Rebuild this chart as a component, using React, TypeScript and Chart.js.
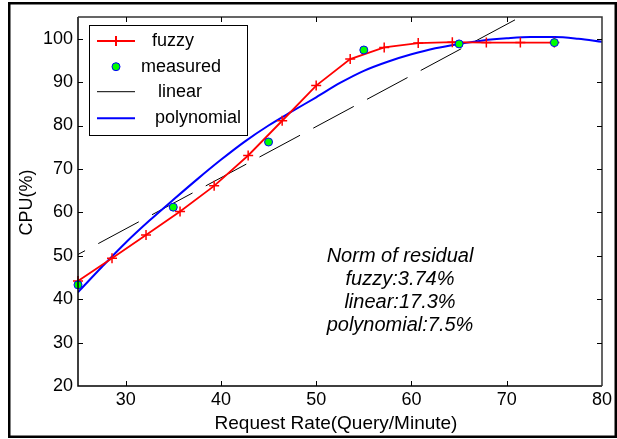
import React, { useEffect, useRef } from "react";
import { Chart, registerables } from "chart.js";

Chart.register(...registerables);

// Fuzzy model output (red line with + markers)
const fuzzyX = [25, 28.57, 32.14, 35.71, 39.29, 42.86, 46.43, 50, 53.57, 57.14, 60.71, 64.29, 67.86, 71.43, 75];
const fuzzyY = [44.2, 49.4, 54.8, 60.2, 66.1, 73.1, 81.1, 89.2, 95.3, 98.0, 99.0, 99.2, 99.1, 99.1, 99.1];

// Measured CPU usage (green dots)
const measuredX = [25, 35, 45, 55, 65, 75];
const measuredY = [43.3, 61.2, 76.2, 97.4, 98.8, 99.1];

// Linear fit (black dashed)
const linearX = [25, 80];
const linearY = [50.3, 115.1];

// Polynomial fit (blue)
const polyX = [25, 27.5, 30, 32.5, 35, 37.5, 40, 42.5, 45, 47.5, 50, 52.5, 55, 57.5, 60, 62.5, 65, 67.5, 70, 72.5, 75, 77.5, 80];
const polyY = [41.6, 47.4, 53.0, 58.1, 62.9, 67.6, 72.1, 76.3, 80.0, 83.3, 86.5, 89.8, 92.6, 94.7, 96.4, 97.8, 98.8, 99.6, 100.1, 100.4, 100.4, 100.0, 99.3];

const xTicks = [30, 40, 50, 60, 70, 80];
const yTicks = [20, 30, 40, 50, 60, 70, 80, 90, 100];

const legendLabels = ["fuzzy", "measured", "linear", "polynomial"];
const residualLines = ["Norm of residual", "fuzzy:3.74%", "linear:17.3%", "polynomial:7.5%"];

const xTitle = "Request Rate(Query/Minute)";
const yTitle = "CPU(%)";

const FONT = "'Liberation Sans', Arial, Helvetica, sans-serif";

const toPts = (xs: number[], ys: number[]) => xs.map((x, i) => ({ x, y: ys[i] }));

const decorPlugin = {
  id: "decor",
  afterDatasetsDraw(chart: any) {
    const { ctx, chartArea: a, scales } = chart;
    const xs = scales.x;
    const ys = scales.y;
    ctx.save();

    // outer figure frame
    ctx.strokeStyle = "#000";
    ctx.lineWidth = 2.5;
    ctx.strokeRect(9.25, 3.25, 606.5, 433.5);

    // axes box
    ctx.lineWidth = 1.5;
    ctx.strokeStyle = "#000";
    ctx.beginPath();
    ctx.moveTo(a.left, a.top);
    ctx.lineTo(a.left, a.bottom);
    ctx.lineTo(a.right, a.bottom);
    ctx.stroke();
    ctx.strokeStyle = "#333";
    ctx.beginPath();
    ctx.moveTo(a.left, a.top);
    ctx.lineTo(a.right, a.top);
    ctx.lineTo(a.right, a.bottom);
    ctx.stroke();

    // inward tick marks on all four sides
    const tl = 5;
    ctx.lineWidth = 1;
    ctx.strokeStyle = "#000";
    ctx.beginPath();
    xTicks.forEach((v) => {
      const px = Math.round(xs.getPixelForValue(v)) + 0.5;
      if (px > a.right - 2) return;
      ctx.moveTo(px, a.bottom);
      ctx.lineTo(px, a.bottom - tl);
      ctx.moveTo(px, a.top);
      ctx.lineTo(px, a.top + tl);
    });
    yTicks.forEach((v) => {
      const py = Math.round(ys.getPixelForValue(v)) + 0.5;
      if (py > a.bottom - 2) return;
      ctx.moveTo(a.left, py);
      ctx.lineTo(a.left + tl, py);
      ctx.moveTo(a.right, py);
      ctx.lineTo(a.right - tl, py);
    });
    ctx.stroke();

    // axis titles
    ctx.fillStyle = "#000";
    ctx.font = `19px ${FONT}`;
    ctx.textAlign = "center";
    ctx.textBaseline = "alphabetic";
    ctx.fillText(xTitle, (a.left + a.right) / 2 - 4, a.bottom + 43);
    ctx.font = `18px ${FONT}`;
    ctx.save();
    ctx.translate(a.left - 46, (a.top + a.bottom) / 2 + 1);
    ctx.rotate(-Math.PI / 2);
    ctx.fillText(yTitle, 0, 0);
    ctx.restore();

    // residual annotation
    ctx.font = `italic 20px ${FONT}`;
    ctx.textBaseline = "middle";
    const cx = xs.getPixelForValue(58.8);
    const cy = ys.getPixelForValue(49.8);
    residualLines.forEach((t, i) => ctx.fillText(t, cx, cy + i * 22.8));

    // legend
    const bx = a.left + 11;
    const by = a.top + 8;
    const bw = 158;
    const bh = 110;
    ctx.fillStyle = "#fff";
    ctx.fillRect(bx, by, bw, bh);
    ctx.strokeStyle = "#000";
    ctx.lineWidth = 1;
    ctx.strokeRect(bx + 0.5, by + 0.5, bw, bh);
    const rowY = [16, 41.7, 66.7, 93.3];
    const textX = [63, 52, 69, 66];
    const l0 = bx + 8;
    const l1 = bx + 46;
    const lm = (l0 + l1) / 2;

    // fuzzy
    ctx.strokeStyle = "#ff0000";
    ctx.lineWidth = 2;
    ctx.beginPath();
    ctx.moveTo(l0, by + rowY[0]);
    ctx.lineTo(l1, by + rowY[0]);
    ctx.moveTo(lm, by + rowY[0] - 5);
    ctx.lineTo(lm, by + rowY[0] + 5);
    ctx.stroke();
    // measured
    ctx.fillStyle = "#00ff00";
    ctx.strokeStyle = "#0000ff";
    ctx.lineWidth = 1;
    ctx.beginPath();
    ctx.arc(lm, by + rowY[1], 4, 0, Math.PI * 2);
    ctx.fill();
    ctx.stroke();
    // linear
    ctx.strokeStyle = "#000";
    ctx.lineWidth = 1;
    ctx.beginPath();
    ctx.moveTo(l0, by + rowY[2]);
    ctx.lineTo(l1, by + rowY[2]);
    ctx.stroke();
    // polynomial
    ctx.strokeStyle = "#0000ff";
    ctx.lineWidth = 2;
    ctx.beginPath();
    ctx.moveTo(l0, by + rowY[3]);
    ctx.lineTo(l1, by + rowY[3]);
    ctx.stroke();

    ctx.fillStyle = "#000";
    ctx.font = `18px ${FONT}`;
    ctx.textAlign = "left";
    ctx.textBaseline = "middle";
    legendLabels.forEach((t, i) => ctx.fillText(t, bx + textX[i], by + rowY[i]));

    ctx.restore();
  },
};

export default function App() {
  const ref = useRef<HTMLCanvasElement | null>(null);

  useEffect(() => {
    if (!ref.current) return;
    document.body.style.margin = "0";
    const chart = new Chart(ref.current, {
      type: "scatter",
      data: {
        datasets: [
          {
            label: "measured",
            data: toPts(measuredX, measuredY),
            showLine: false,
            clip: false,
            pointRadius: 4,
            pointBackgroundColor: "#00ff00",
            pointBorderColor: "#0000ff",
            pointBorderWidth: 1,
          },
          {
            label: "fuzzy",
            data: toPts(fuzzyX, fuzzyY),
            showLine: true,
            clip: false,
            borderColor: "#ff0000",
            borderWidth: 1.8,
            pointStyle: "cross",
            pointRadius: 5,
            pointBorderColor: "#ff0000",
            pointBorderWidth: 1.5,
          },
          {
            label: "polynomial",
            data: toPts(polyX, polyY),
            showLine: true,
            borderColor: "#0000ff",
            borderWidth: 2,
            pointRadius: 0,
            cubicInterpolationMode: "monotone",
          },
          {
            label: "linear",
            data: toPts(linearX, linearY),
            showLine: true,
            borderColor: "#000",
            borderWidth: 1,
            borderDash: [46, 15],
            borderDashOffset: 38,
            pointRadius: 0,
          },
        ],
      } as any,
      options: {
        responsive: false,
        animation: false,
        devicePixelRatio: 1,
        layout: { padding: { left: 0, right: 15, top: 17, bottom: 0 } },
        plugins: { legend: { display: false }, tooltip: { enabled: false } },
        scales: {
          x: {
            type: "linear",
            min: 25,
            max: 80,
            grid: { display: false, drawTicks: false },
            border: { display: false },
            ticks: { color: "#000", font: { family: FONT, size: 18 }, padding: 3 },
            afterBuildTicks: (s: any) => {
              s.ticks = xTicks.map((v) => ({ value: v }));
            },
            afterFit: (s: any) => {
              s.height = 53;
              s.paddingLeft = 0;
              s.paddingRight = 0;
            },
          },
          y: {
            type: "linear",
            min: 20,
            max: 105,
            grid: { display: false, drawTicks: false },
            border: { display: false },
            ticks: { color: "#000", font: { family: FONT, size: 18 }, padding: 5 },
            afterBuildTicks: (s: any) => {
              s.ticks = yTicks.map((v) => ({ value: v }));
            },
            afterFit: (s: any) => {
              s.width = 78;
              s.paddingTop = 0;
              s.paddingBottom = 0;
            },
          },
        },
      } as any,
      plugins: [decorPlugin],
    });
    return () => chart.destroy();
  }, []);

  return (
    <div style={{ position: "fixed", left: 0, top: 0, width: 617, height: 439, background: "#fff" }}>
      <canvas ref={ref} width={617} height={439} style={{ display: "block", width: 617, height: 439 }} />
    </div>
  );
}
